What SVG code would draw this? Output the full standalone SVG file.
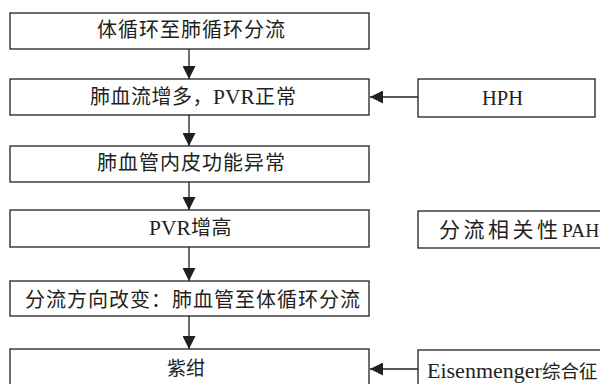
<svg xmlns="http://www.w3.org/2000/svg" width="600" height="384" viewBox="0 0 600 384">
  <style>
    .box { fill: #ffffff; stroke: #231f20; stroke-width: 1.3; }
    .lbl { font-family: "Liberation Serif", "Noto Sans CJK SC", serif; font-size: 20px; fill: #231f20; }
    .cjk { letter-spacing: 1px; }
    .lat { font-size: 21.5px; letter-spacing: 0; }
    .edge { stroke: #231f20; stroke-width: 1.3; fill: none; }
  </style>
  <defs>
    <marker id="arrowBig" viewBox="0 0 12 12" refX="12" refY="6" markerWidth="13" markerHeight="13" markerUnits="userSpaceOnUse" orient="auto">
      <path d="M0,0 L12,6 L0,12 Z" fill="#231f20"/>
    </marker>
  </defs>

  <rect width="600" height="384" fill="#ffffff"/>

  <g id="edges">
    <line class="edge" x1="189" y1="49" x2="189" y2="79" marker-end="url(#arrowBig)"/>
    <line class="edge" x1="189" y1="115" x2="189" y2="146" marker-end="url(#arrowBig)"/>
    <line class="edge" x1="189" y1="182" x2="189" y2="210" marker-end="url(#arrowBig)"/>
    <line class="edge" x1="189" y1="247" x2="189" y2="281" marker-end="url(#arrowBig)"/>
    <line class="edge" x1="189" y1="316" x2="189" y2="349" marker-end="url(#arrowBig)"/>
    <line class="edge" x1="418" y1="97" x2="370" y2="97" marker-end="url(#arrowBig)"/>
    <line class="edge" x1="418" y1="369" x2="370" y2="369" marker-end="url(#arrowBig)"/>
  </g>

  <g id="n1">
    <rect class="box" x="10" y="13" width="359" height="36"/>
    <text class="lbl cjk" x="97" y="37">体循环至肺循环分流</text>
  </g>
  <g id="n2">
    <rect class="box" x="10" y="79" width="359" height="36"/>
    <text class="lbl" y="104"><tspan x="90" style="letter-spacing:0.5px">肺血流增多，</tspan><tspan x="213" class="lat">PVR</tspan><tspan x="255" class="cjk">正常</tspan></text>
  </g>
  <g id="n3">
    <rect class="box" x="10" y="146" width="359" height="36"/>
    <text class="lbl cjk" x="97" y="170">肺血管内皮功能异常</text>
  </g>
  <g id="n4">
    <rect class="box" x="10" y="210" width="359" height="37"/>
    <text class="lbl" y="235"><tspan x="149" class="lat">PVR</tspan><tspan x="191" style="letter-spacing:0.5px">增高</tspan></text>
  </g>
  <g id="n5">
    <rect class="box" x="10" y="281" width="359" height="35"/>
    <text class="lbl cjk" x="25" y="307">分流方向改变：肺血管至体循环分流</text>
  </g>
  <g id="n6">
    <rect class="box" x="10" y="349" width="359" height="45"/>
    <text class="lbl" x="167" y="375" style="font-size:19px">紫绀</text>
  </g>
  <g id="hph">
    <rect class="box" x="418" y="79" width="177" height="38"/>
    <text class="lbl" x="482" y="105" style="font-size:20.5px">HPH</text>
  </g>
  <g id="pah">
    <rect class="box" x="418" y="211" width="190" height="37"/>
    <text class="lbl" y="237"><tspan x="439" style="font-size:21px;letter-spacing:3.5px">分流相关性</tspan><tspan x="562" style="font-size:19.5px">PAH</tspan></text>
  </g>
  <g id="eisenmenger">
    <rect class="box" x="418" y="350" width="200" height="45"/>
    <text class="lbl" y="378"><tspan x="427" style="font-size:22px">Eisenmenger</tspan><tspan x="542" style="font-size:18.5px">综合征</tspan></text>
  </g>
</svg>
